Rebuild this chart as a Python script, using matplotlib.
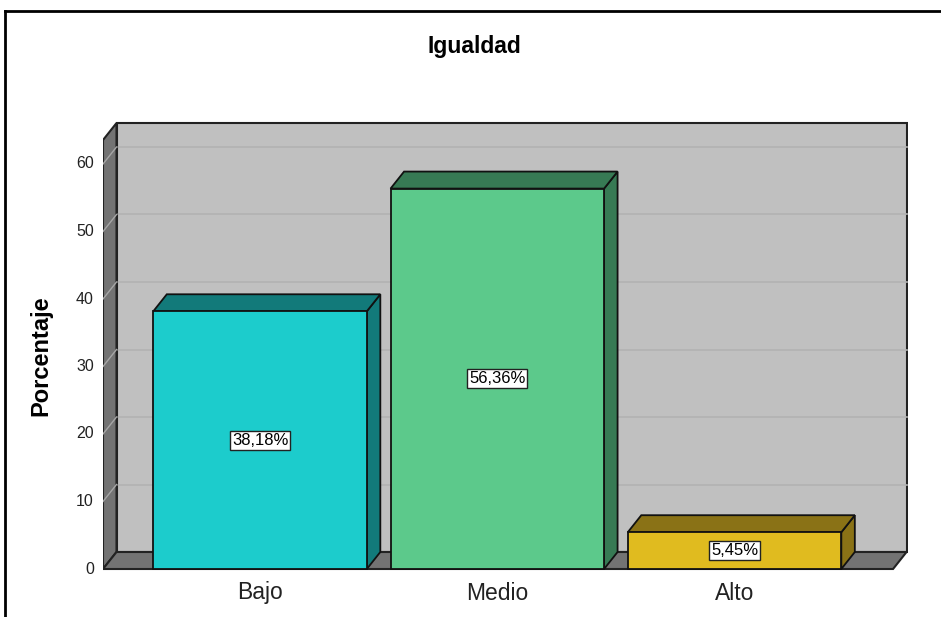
import matplotlib
matplotlib.use("Agg")
import matplotlib.pyplot as plt
from matplotlib.patches import Polygon, Rectangle
from matplotlib.lines import Line2D

plt.rcParams['font.family'] = ['Liberation Sans', 'DejaVu Sans']

# data
categories = ['Bajo', 'Medio', 'Alto']
percentages = [38.18, 56.36, 5.45]
value_labels = ['38,18%', '56,36%', '5,45%']
yticks = [0, 10, 20, 30, 40, 50, 60]

front_colors = ['#1ccccc', '#5cc98b', '#e0bb1f']
dark_colors = ['#127a7a', '#377a54', '#8a7216']

# geometry (pixel measures of the reference)
W, H = 941, 617
px_x = 237.25          # pixels per category
px_y = 6.75            # pixels per percent
zero_px = 569
L_px, R_px, T_px, B_px = 103, 908, 121, 571

x0 = -0.662            # front-left of floor
x1 = 2.668             # front-right of floor
ymax = 63.55
dx = 13.5 / px_x       # depth offset
dy = 17 / px_y
bw = 0.90

fig = plt.figure(figsize=(W / 100, H / 100), dpi=100)
ax = fig.add_axes([L_px / W, 1 - B_px / H, (R_px - L_px) / W, (B_px - T_px) / H])
ax.set_xlim(x0, x0 + (R_px - L_px) / px_x)
ax.set_ylim(-(B_px - zero_px) / px_y, (zero_px - T_px) / px_y)
ax.axis('off')

edge = '#222222'
# back wall
ax.add_patch(Rectangle((x0 + dx, dy), x1 - x0, ymax, facecolor='#c0c0c0',
                       edgecolor=edge, lw=1.5, zorder=1))
# left wall
ax.add_patch(Polygon([(x0, 0), (x0 + dx, dy), (x0 + dx, ymax + dy), (x0, ymax)],
                     facecolor='#737373', edgecolor=edge, lw=1.5, zorder=2))
# floor
ax.add_patch(Polygon([(x0, 0), (x1, 0), (x1 + dx, dy), (x0 + dx, dy)],
                     facecolor='#737373', edgecolor=edge, lw=1.5, zorder=2))

# gridlines
for t in yticks[1:]:
    ax.plot([x0 + dx, x1 + dx], [t + dy, t + dy], color='#b2b2b2', lw=1.2, zorder=1.5)
    ax.plot([x0, x0 + dx], [t, t + dy], color='#a6a6a6', lw=1.0, zorder=2.5)
for t in yticks:
    ax.text(x0 - 0.038, t, str(t), ha='right', va='center', fontsize=11.5, color='#222222')

# bars
for i, (cat, v) in enumerate(zip(categories, percentages)):
    xl, xr = i - bw / 2, i + bw / 2
    ax.add_patch(Polygon([(xr, 0), (xr + dx, dy), (xr + dx, v + dy), (xr, v)],
                         facecolor=dark_colors[i], edgecolor='#111111', lw=1.3, zorder=5))
    ax.add_patch(Polygon([(xl, v), (xr, v), (xr + dx, v + dy), (xl + dx, v + dy)],
                         facecolor=dark_colors[i], edgecolor='#111111', lw=1.3, zorder=5))
    ax.add_patch(Rectangle((xl, 0), bw, v, facecolor=front_colors[i],
                           edgecolor='#111111', lw=1.3, zorder=6))
    ax.text(i, v / 2, value_labels[i], ha='center', va='center', fontsize=12, zorder=7,
            bbox=dict(boxstyle='square,pad=0.12', facecolor='white', edgecolor='#222222', lw=1))
    ax.text(i, -24 / px_y, cat, ha='center', va='center', fontsize=16.5, color='#222222',
            clip_on=False)

fig.text(474 / W, 1 - 47 / H, 'Igualdad', ha='center', va='center',
         fontsize=16.5, fontweight='bold')
fig.text(41 / W, 1 - 356 / H, 'Porcentaje', ha='center', va='center',
         fontsize=17, fontweight='bold', rotation=90)

# outer frame
fig.add_artist(Line2D([5 / W, 1], [1 - 11 / H, 1 - 11 / H], color='black', lw=2))
fig.add_artist(Line2D([5 / W, 5 / W], [0, 1 - 11 / H], color='black', lw=2))

fig.savefig('out.png', dpi=100)
